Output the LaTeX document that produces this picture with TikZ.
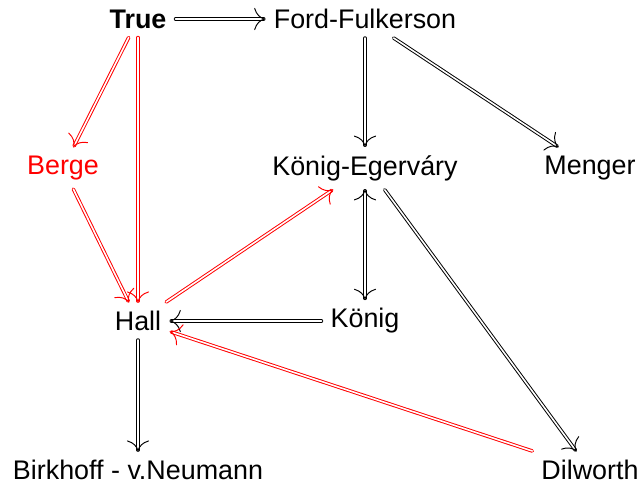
\documentclass[tikz,border=0pt]{standalone}
\usepackage{fontspec}
\setmainfont{Liberation Sans}
\usepackage{tikz}
\usetikzlibrary{arrows.meta}

\begin{document}
\begin{tikzpicture}[x=0.02cm,y=-0.02cm,line cap=round,line join=round,
  every node/.style={font=\fontsize{15.3}{18}\selectfont,inner sep=5pt},
  imp/.style={draw=black,double,line width=0.55pt,double distance=0.9pt,->},
  redimp/.style={imp,draw=red}]
\useasboundingbox (0,0) rectangle (643,485);
% theorems
\node (true) at (138,19) {\textbf{True}};
\node (ff) at (365,19) {Ford-Fulkerson};
\node[text=red] (berge) at (63,168) {Berge};
\node (ke) at (365,168) {König-Egerváry};
\node (menger) at (590,168) {Menger};
\node (hall) at (138,321) {Hall};
\node (konig) at (365,321) {König};
\node (bvn) at (138,470) {Birkhoff - v.Neumann};
\node (dilworth) at (590,470) {Dilworth};
% black implications
\draw[imp] (true) -- (ff);
\draw[imp] (ff) -- (ke);
\draw[imp] (ff) -- (menger);
\draw[imp,<->] (ke) -- (konig);
\draw[imp] (konig) -- (hall);
\draw[imp] (ke.south east) ++(-82,0) coordinate (kes) (kes) -- (dilworth);
\draw[imp] (hall) -- (bvn);
% red implications
\draw[redimp] (true) -- (berge);
\draw[redimp] (true) -- (hall);
\draw[redimp] (berge) -- (hall);
\draw[redimp] (hall) -- (ke);
\draw[redimp] (dilworth) -- (hall);
\end{tikzpicture}
\end{document}
